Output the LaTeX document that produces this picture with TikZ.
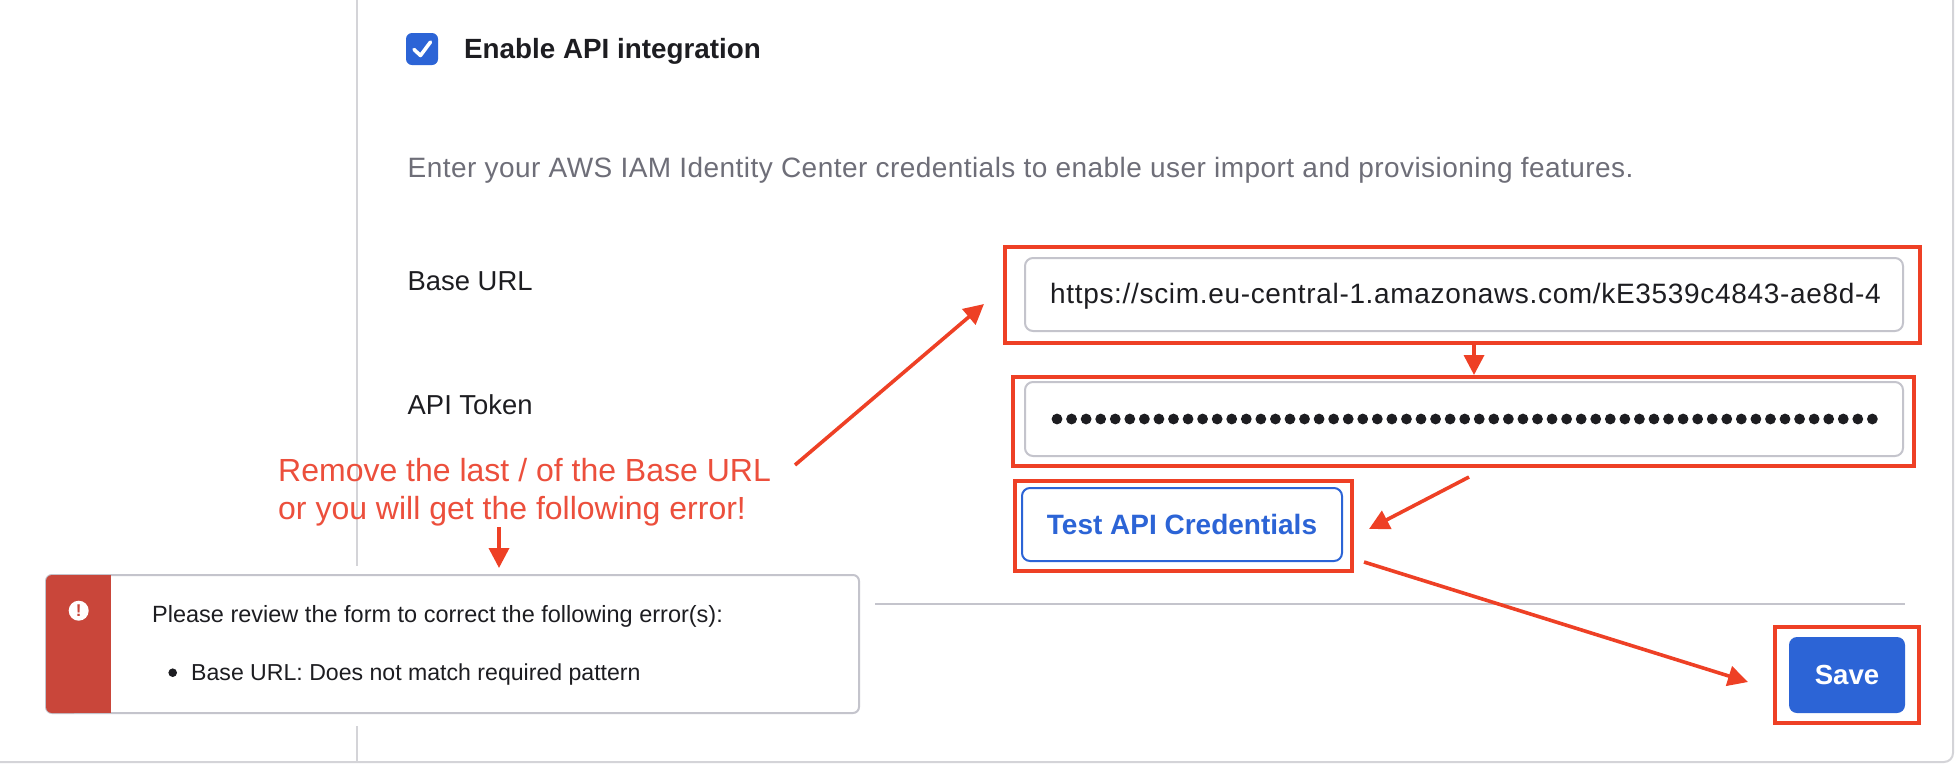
\documentclass[tikz,border=0pt]{standalone}
\usepackage{fontspec}
\setmainfont{Liberation Sans}
\usetikzlibrary{arrows.meta,shapes.geometric}
\definecolor{annot}{HTML}{EE4025}
\definecolor{notetxt}{HTML}{EC4F3C}
\definecolor{okblue}{HTML}{2C64D6}
\definecolor{okborder}{HTML}{C4C4CC}
\definecolor{okrule}{HTML}{D4D4D8}
\definecolor{okink}{HTML}{1D1D21}
\definecolor{okgrey}{HTML}{6E6E78}
\definecolor{okred}{HTML}{C9463A}
\newcommand{\fs}[2]{\fontsize{#1pt}{#1pt}\selectfont\addfontfeatures{LetterSpace=#2}}
\tikzset{
  x=1pt,y=-1pt,
  redbox/.style={draw=annot,line width=4pt,inner sep=0pt,rectangle},
  fieldbox/.style={draw=okborder,line width=2pt,fill=white,rounded corners=8pt,inner sep=0pt,rectangle},
  arrowline/.style={draw=annot,line width=3.6pt,-{Triangle[length=20pt,width=20pt]}},
  lab/.style={anchor=west,inner sep=0pt,text=okink},
  rulel/.style={draw=okrule,line width=2pt},
}
\begin{document}
\begin{tikzpicture}
\useasboundingbox[fill=white] (0,0) rectangle (1960,764);
% page frame and rules
\draw[rulel,rounded corners=9pt] (0,762) -- (1953,762) -- (1953,0);
\draw[rulel] (356.5,0) -- (356.5,566);
\draw[rulel] (356.5,726) -- (356.5,762);
\draw[draw=okborder,line width=2pt] (875,604) -- (1905,604);
% checkbox
\node[fill=okblue,rounded corners=6pt,minimum width=32pt,minimum height=32pt,inner sep=0pt,rectangle] (chk) at (422,49) {};
\draw[white,line width=3.6pt,line cap=round,line join=round] (414,49.5) -- (420.5,55.5) -- (430.5,42);
\node[lab,font=\fs{27.8}{0}\bfseries] (enable) at (464,51) {Enable API integration};
\node[lab,font=\fs{28}{1.6},text=okgrey] (enter) at (407.5,170) {Enter your AWS IAM Identity Center credentials to enable user import and provisioning features.};
\node[lab,font=\fs{27.4}{0}] (baseurl) at (407.5,281) {Base URL};
\node[lab,font=\fs{27.4}{0}] (apitoken) at (407.5,405) {API Token};
% fields
\node[fieldbox,minimum width=878pt,minimum height=73pt] (urlf) at (1464,294.5) {};
\node[fieldbox,minimum width=878pt,minimum height=74pt] (tokf) at (1464,419) {};
\begin{scope}
\clip (1040,270) rectangle (1879,325);
\node[lab,font=\fs{28}{2.4}] (url) at (1050,296) {https://scim.eu-central-1.amazonaws.com/kE3539c4843-ae8d-4};
\end{scope}
\foreach \i in {0,...,56} \fill[okink] ({1057+\i*14.56},419) circle[radius=5.4pt];
% test button
\node[draw=okblue,line width=2pt,fill=white,rounded corners=8pt,inner sep=0pt,rectangle,minimum width=320pt,minimum height=73pt,text=okblue,font=\fs{28}{0}\bfseries] (test) at (1182,524.5) {Test API Credentials};
% save button
\node[fill=okblue,rounded corners=8pt,inner sep=0pt,rectangle,minimum width=116pt,minimum height=76pt,text=white,font=\fs{27.6}{0}\bfseries] (save) at (1847,675) {Save};
% annotation boxes
\node[redbox,minimum width=915pt,minimum height=96pt] (r1) at (1462.5,295) {};
\node[redbox,minimum width=901pt,minimum height=89pt] (r2) at (1463.5,421.5) {};
\node[redbox,minimum width=337pt,minimum height=90pt] (r3) at (1183.5,526) {};
\node[redbox,minimum width=144pt,minimum height=96pt] (r4) at (1847,675) {};
% alert
\node[draw=okborder,fill=white,line width=2pt,rounded corners=6pt,minimum width=813pt,minimum height=138pt,inner sep=0pt,rectangle] (alert) at (452.5,644) {};
\fill[okred,rounded corners=6pt] (46,575) rectangle (80,713);
\fill[okred] (60,575) rectangle (111,713);
\node[circle,fill=white,inner sep=0pt,minimum size=20pt,text=okred,font=\fs{17}{0}\bfseries] (bang) at (78.7,610.7) {!};
\node[lab,font=\fs{23.5}{0}] (please) at (152,616) {Please review the form to correct the following error(s):};
\fill[okink] (172.7,672.7) circle[radius=4.3pt];
\node[lab,font=\fs{23.1}{0}] (pattern) at (191,674.5) {Base URL: Does not match required pattern};
% note
\node[lab,font=\fs{32}{0},text=notetxt] (note1) at (278,470) {Remove the last / of the Base URL};
\node[lab,font=\fs{32}{0},text=notetxt] (note2) at (278,511) {or you will get the following error!};
% arrows
\coordinate (a1s) at (795,465);
\coordinate (a1e) at (984,304);
\coordinate (a2x) at (1474,0);
\coordinate (a3s) at (1469,477);
\coordinate (a3e) at (1369,529);
\coordinate (a4s) at (1364,562);
\coordinate (a4e) at (1748,682);
\coordinate (a5s) at (499,527);
\coordinate (a5e) at (499,568);
\draw[arrowline] (a1s) -- (a1e);
\draw[arrowline] (r1.south -| a2x) -- (r2.north -| a2x);
\draw[arrowline] (a3s) -- (a3e);
\draw[arrowline] (a4s) -- (a4e);
\draw[arrowline] (a5s) -- (a5e);
\end{tikzpicture}
\end{document}
